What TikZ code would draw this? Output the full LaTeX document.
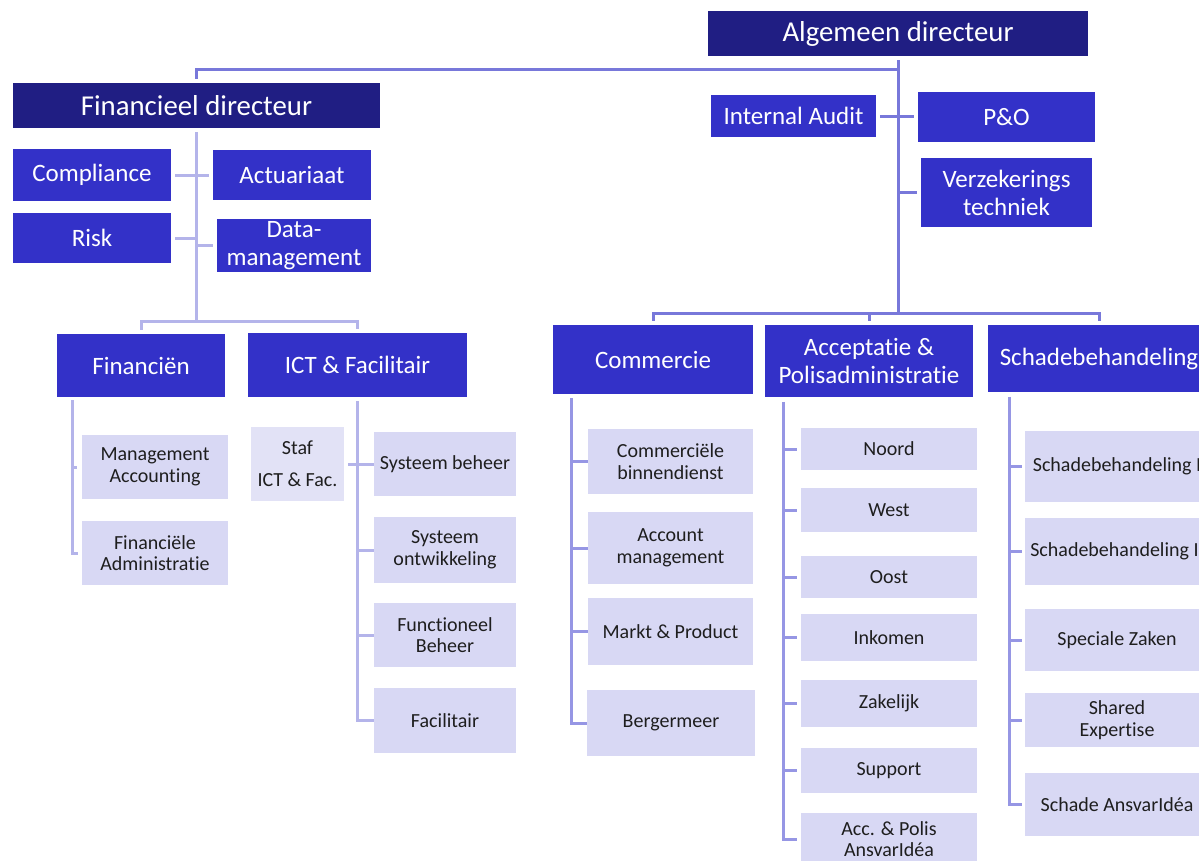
\documentclass[tikz,border=0pt]{standalone}
\usepackage{fontspec}
\setmainfont{Carlito}[Ligatures=NoCommon]
\definecolor{cdark}{RGB}{32,30,131}
\definecolor{cblue}{RGB}{51,49,200}
\definecolor{clight}{RGB}{216,216,244}
\definecolor{cstaf}{RGB}{226,226,246}
\definecolor{ctxt}{RGB}{30,30,30}
\definecolor{lnA}{RGB}{120,120,218}
\definecolor{lnB}{RGB}{180,180,234}
\definecolor{lnC}{RGB}{150,150,228}
\begin{document}
\begin{tikzpicture}[x=0.75pt,y=-0.75pt,
  sz/.style 2 args={minimum width=#1*0.75pt, minimum height=#2*0.75pt},
  boxbase/.style={inner sep=0pt, align=center, draw=none},
  lvlzero/.style={boxbase, fill=cdark, text=white, font=\fontsize{21.6}{26}\selectfont},
  lvlone/.style={boxbase, fill=cblue, text=white, font=\fontsize{18.75}{21}\selectfont},
  lvltwo/.style={boxbase, fill=clight, text=ctxt, font=\fontsize{15}{16.3}\selectfont},
  ln/.style={line width=2.25pt},
  topln/.style={ln, draw=lnA},
  lowL/.style={ln, draw=lnB},
  lowR/.style={ln, draw=lnC}]
\useasboundingbox (0,0) rectangle (1199,860);
\clip (0,0) rectangle (1199,860);

% top level
\node[lvlzero, sz={380}{45}] (ad) at (898,33.5) {Algemeen directeur};
\node[lvlzero, sz={367}{45}] (fd) at (196.5,105.5) {Financieel directeur};

% financieel staff
\node[lvlone, sz={158}{52}] (comp) at (92,175) {Compliance};
\node[lvlone, sz={158}{50}] (act) at (292,175) {Actuariaat};
\node[lvlone, sz={158}{50}] (risk) at (92,238) {Risk};
\node[lvlone, sz={154}{53}] (data) at (294,245.5) {Data-\\management};

% algemeen staff
\node[lvlone, sz={165}{42}] (ia) at (793.5,116) {Internal Audit};
\node[lvlone, sz={177}{50}] (po) at (1006.5,117) {P\&O};
\node[lvlone, sz={171}{69}] (vt) at (1006.5,192.5) {Verzekerings\\techniek};

% departments
\node[lvlone, sz={168}{63}] (fin) at (141,365.5) {Financiën};
\node[lvlone, sz={219}{64}] (ict) at (357.5,365) {ICT \& Facilitair};
\node[lvlone, sz={200}{69}] (com) at (653,359.5) {Commercie};
\node[lvlone, sz={208}{72}] (acc) at (869,361) {Acceptatie \&\\Polisadministratie};
\node[lvlone, sz={222}{67}] (sch) at (1099,358.5) {Schadebehandeling};

% financien units
\node[lvltwo, sz={146}{64}] (ma) at (155,467) {Management\\Accounting};
\node[lvltwo, sz={146}{64}] (fa) at (155,553) {Financiële\\Administratie};

% ict units
\node[lvltwo, fill=cstaf, font=\fontsize{15}{23.8}\selectfont, sz={93}{74}] (staf) at (297.5,464) {Staf\\ICT \& Fac.};
\node[lvltwo, sz={142}{64}] (sb) at (445,464) {Systeem beheer};
\node[lvltwo, sz={142}{66}] (so) at (445,550) {Systeem\\ontwikkeling};
\node[lvltwo, sz={142}{64}] (fb) at (445,635) {Functioneel\\Beheer};
\node[lvltwo, sz={142}{65}] (fac) at (445,720.5) {Facilitair};

% commercie units
\node[lvltwo, sz={165}{65}] (cb) at (670.5,461.5) {Commerciële\\binnendienst};
\node[lvltwo, sz={165}{72}] (am) at (670.5,548) {Account\\management};
\node[lvltwo, sz={165}{67}] (mp) at (670.5,631.5) {Markt \& Product};
\node[lvltwo, sz={168}{66}] (berg) at (671,723) {Bergermeer};

% acceptatie units
\node[lvltwo, sz={176}{42}] (noord) at (889,449) {Noord};
\node[lvltwo, sz={176}{44}] (west) at (889,510) {West};
\node[lvltwo, sz={176}{42}] (oost) at (889,577) {Oost};
\node[lvltwo, sz={176}{47}] (ink) at (889,637.5) {Inkomen};
\node[lvltwo, sz={176}{47}] (zak) at (889,703.5) {Zakelijk};
\node[lvltwo, sz={176}{45}] (sup) at (889,770.5) {Support};
\node[lvltwo, sz={176}{52}] (accp) at (889,839) {Acc. \& Polis\\AnsvarIdéa};

% schade units
\node[lvltwo, sz={184}{71}] (sone) at (1117,466.5) {Schadebehandeling I};
\node[lvltwo, sz={184}{67}] (stwo) at (1117,551.5) {Schadebehandeling II};
\node[lvltwo, sz={184}{62}] (spz) at (1117,640) {Speciale Zaken};
\node[lvltwo, sz={184}{54}] (sexp) at (1117,720) {Shared\\Expertise};
\node[lvltwo, sz={184}{63}] (sans) at (1117,804.5) {Schade AnsvarIdéa};

% junctions
\coordinate (jtop) at (898,69);
\coordinate (jright) at (898,313);
\coordinate (jleft) at (196.5,321);
\coordinate (finx) at ([xshift=12pt,yshift=-2.25pt]fin.south west);
\coordinate (comx) at ([xshift=14.25pt,yshift=-3pt]com.south west);
\coordinate (accx) at ([xshift=14.25pt,yshift=-3.5pt]acc.south west);
\coordinate (schx) at ([xshift=16.1pt,yshift=-3.5pt]sch.south west);

% top connectors
\draw[topln, shorten <=3pt] (ad.south) -- (jright);
\draw[topln, shorten <=3pt] (fd.north) |- (jtop);
\draw[topln, shorten <=3pt, shorten >=3pt] (ia.east) -- (ia.east -| po.west);
\draw[topln, shorten <=3pt] (vt.west) -- (vt.west -| jright);
\draw[topln, shorten <=3pt, shorten >=3pt] (com.north) |- (jright) -| (sch.north);
\draw[topln, shorten <=3pt] (acc.north) -- (acc.north |- jright);

% financieel directeur connectors
\draw[lowL, shorten <=3pt] (fd.south) -- (jleft);
\draw[lowL, shorten <=3pt, shorten >=3pt] (comp.east) -- (act.west);
\draw[lowL, shorten <=3pt] (risk.east) -- (risk.east -| fd.south);
\draw[lowL, shorten <=3pt] (data.west) -- (data.west -| fd.south);
\draw[lowL, shorten <=3pt, shorten >=3pt] (fin.north) |- (jleft) -| (ict.north);

% financien subtree
\draw[lowL] (finx) |- ([xshift=-3pt]fa.west);
\draw[lowL] (finx |- ma.west) -- ++(4,0);

% ict subtree
\draw[lowL, shorten <=3pt] (ict.south) |- (fac.west);
\draw[lowL, shorten <=3pt] (staf.east) -- (sb.west);
\foreach \n in {so,fb} \draw[lowL] (ict.south |- \n.west) -- (\n.west);

% commercie subtree
\draw[lowR] (comx) |- (berg.west);
\foreach \n in {cb,am,mp} \draw[lowR] (comx |- \n.west) -- (\n.west);

% acceptatie subtree
\draw[lowR, shorten >=3pt] (accx) |- (accp.west);
\foreach \n in {noord,west,oost,ink,zak,sup} \draw[lowR, shorten >=3pt] (accx |- \n.west) -- (\n.west);

% schade subtree
\draw[lowR, shorten >=2.25pt] (schx) |- (sans.west);
\foreach \n in {sone,stwo,spz,sexp} \draw[lowR, shorten >=2.25pt] (schx |- \n.west) -- (\n.west);
\end{tikzpicture}
\end{document}
